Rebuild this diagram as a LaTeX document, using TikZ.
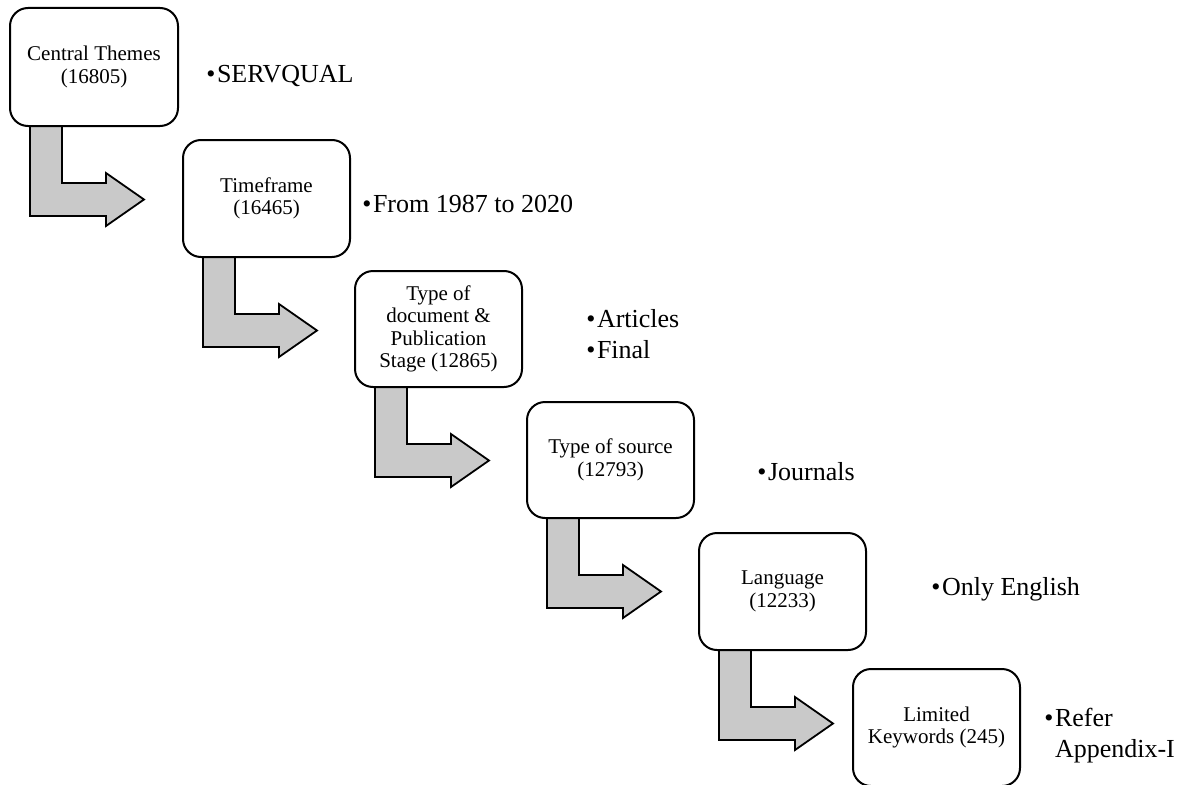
\documentclass[tikz,border=0pt]{standalone}
\usepackage{fontspec}
\setmainfont{Liberation Serif}
\usetikzlibrary{calc,backgrounds}
\definecolor{arrowgray}{RGB}{201,201,201}
\tikzset{
  stagebox/.style={draw=black, line width=2pt, rounded corners=18pt, fill=white,
    minimum width=167pt, minimum height=117pt, inner sep=0pt, outer sep=0pt,
    align=center, font=\fontsize{21}{22.5}\selectfont},
  bultext/.style={inner sep=0pt, outer sep=0pt, font=\fontsize{26}{31}\selectfont},
  bulmark/.style={inner sep=0pt, outer sep=0pt, font=\fontsize{26}{31}\selectfont, anchor=base east},
  bentarrow/.style={draw=black, line width=1.8pt, fill=arrowgray, line join=miter}
}
\newcommand{\bentarr}[1]{%
  \draw[bentarrow] ($(#1.south west)+(20,0)$) -- ++(0,90) -- ++(76,0) -- ++(0,10)
    -- ++(38,-26.5) -- ++(-38,-26.5) -- ++(0,10) -- ++(-44,0)
    -- ($(#1.south west)+(52,0)$) -- cycle;}
\begin{document}
\begin{tikzpicture}[x=1pt,y=-1pt]
\useasboundingbox (0,0) rectangle (1182,784);
% boxes
\path (94,67) node[stagebox, minimum width=168pt, minimum height=118pt] (b1) {Central Themes\\(16805)};
\path (266.5,198.5) node[stagebox] (b2) {Timeframe\\(16465)};
\path (438.5,329) node[stagebox, minimum height=116pt] (b3) {Type of\\document \&\\Publication\\Stage (12865)};
\path (610.5,460) node[stagebox, minimum height=116pt] (b4) {Type of source\\(12793)};
\path (782.5,591.5) node[stagebox] (b5) {Language\\(12233)};
\path (936.5,727.5) node[stagebox] (b6) {Limited\\Keywords (245)};
% bent arrows behind the boxes
\begin{scope}[on background layer]
\bentarr{b1}
\bentarr{b2}
\bentarr{b3}
\bentarr{b4}
\bentarr{b5}
\end{scope}
% bullet texts
\node[bultext, anchor=base west] (t1) at (217,82) {SERVQUAL};
\node[bulmark] (d1) at ($(t1.base west)+(-1.5,0)$) {•};
\node[bultext, anchor=base west] (t2) at (373,212) {From 1987 to 2020};
\node[bulmark] (d2) at ($(t2.base west)+(-1.5,0)$) {•};
\node[bultext, anchor=base west] (t3a) at (597,327) {Articles};
\node[bulmark] (d3a) at ($(t3a.base west)+(-1.5,0)$) {•};
\node[bultext, anchor=base west] (t3b) at (597,358) {Final};
\node[bulmark] (d3b) at ($(t3b.base west)+(-1.5,0)$) {•};
\node[bultext, anchor=base west] (t4) at (768,480) {Journals};
\node[bulmark] (d4) at ($(t4.base west)+(-1.5,0)$) {•};
\node[bultext, anchor=base west] (t5) at (942,595) {Only English};
\node[bulmark] (d5) at ($(t5.base west)+(-1.5,0)$) {•};
\node[bultext, anchor=base west] (t6a) at (1055,726) {Refer};
\node[bulmark] (d6) at ($(t6a.base west)+(-1.5,0)$) {•};
\node[bultext, anchor=base west] (t6b) at (1055,757) {Appendix-I};
\end{tikzpicture}
\end{document}
